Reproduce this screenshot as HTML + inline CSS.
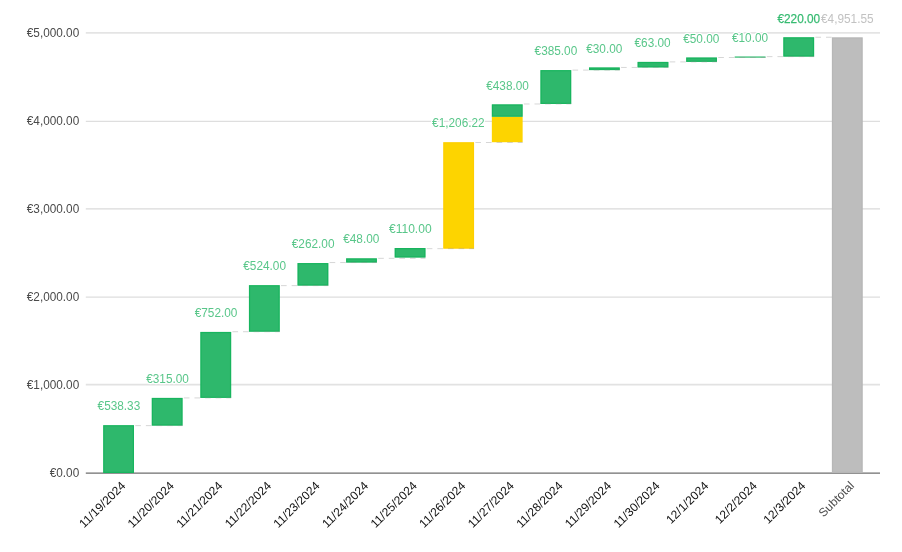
<!DOCTYPE html>
<html lang="en">
<head>
<meta charset="utf-8">
<title>Waterfall chart</title>
<style>
html,body{margin:0;padding:0;background:#fff;}
body{width:902px;height:552px;overflow:hidden;}
svg{display:block;filter:blur(.4px);}
.yl{font:12.4px "Liberation Sans",sans-serif;fill:#4a4a4a;text-anchor:end;}
.xl{font:12px "Liberation Sans",sans-serif;fill:#111;letter-spacing:.05px;text-anchor:end;}
.dl{font:12.3px "Liberation Sans",sans-serif;fill:#2eb86c;fill-opacity:.8;text-anchor:middle;stroke:#fff;stroke-width:2.5px;stroke-linejoin:round;paint-order:stroke;}
.dlb{fill-opacity:.95;stroke:#2eb86c;stroke-width:.25px;stroke-opacity:.9;paint-order:normal;}
.xs{fill:#4a4a4a;}
.dlg{fill:#c2c2c2;fill-opacity:1;}

.conn line{stroke:#8c8c8c;stroke-opacity:.36;stroke-width:1;stroke-dasharray:5.6 5;}
</style>
</head>
<body>
<svg width="902" height="552" viewBox="0 0 902 552">
<rect width="902" height="552" fill="#fff"/>
<g class="grid">
<line x1="85.8" x2="880" y1="384.6" y2="384.6" stroke="#e2e2e2" stroke-width="1.6"/>
<line x1="85.8" x2="880" y1="297.1" y2="297.1" stroke="#d6d6d6" stroke-width="1"/>
<line x1="85.8" x2="880" y1="208.9" y2="208.9" stroke="#dadada" stroke-width="1.2"/>
<line x1="85.8" x2="880" y1="121.3" y2="121.3" stroke="#d6d6d6" stroke-width="1"/>
<line x1="85.8" x2="880" y1="32.9" y2="32.9" stroke="#e4e4e4" stroke-width="1.8"/>
</g>
<line x1="85.8" x2="880" y1="473.1" y2="473.1" stroke="#6e6e6e" stroke-width="1.15"/>
<g class="bars">
<rect x="103.20" y="425.18" width="30.8" height="47.82" fill="#2eb86c"/>
<rect x="103.80" y="425.78" width="29.60" height="46.62" fill="none" stroke="#00b250" stroke-opacity="0.5" stroke-width="1.2"/>
<rect x="151.78" y="397.91" width="30.8" height="27.72" fill="#2eb86c"/>
<rect x="152.38" y="398.51" width="29.60" height="26.52" fill="none" stroke="#00b250" stroke-opacity="0.5" stroke-width="1.2"/>
<rect x="200.36" y="331.93" width="30.8" height="65.98" fill="#2eb86c"/>
<rect x="200.96" y="332.53" width="29.60" height="64.78" fill="none" stroke="#00b250" stroke-opacity="0.5" stroke-width="1.2"/>
<rect x="248.94" y="285.17" width="30.8" height="46.56" fill="#2eb86c"/>
<rect x="249.54" y="285.77" width="29.60" height="45.36" fill="none" stroke="#00b250" stroke-opacity="0.5" stroke-width="1.2"/>
<rect x="297.52" y="263.06" width="30.8" height="22.56" fill="#2eb86c"/>
<rect x="298.12" y="263.66" width="29.60" height="21.36" fill="none" stroke="#00b250" stroke-opacity="0.5" stroke-width="1.2"/>
<rect x="346.10" y="258.34" width="30.8" height="4.22" fill="#2eb86c"/>
<rect x="346.70" y="258.94" width="29.60" height="3.02" fill="none" stroke="#00b250" stroke-opacity="0.5" stroke-width="1.2"/>
<rect x="394.68" y="248.01" width="30.8" height="9.53" fill="#2eb86c"/>
<rect x="395.28" y="248.61" width="29.60" height="8.33" fill="none" stroke="#00b250" stroke-opacity="0.5" stroke-width="1.2"/>
<rect x="443.26" y="142.21" width="30.8" height="106.45" fill="#fdd400"/>
<rect x="443.86" y="142.81" width="29.60" height="105.25" fill="none" stroke="#ffc400" stroke-opacity="0.35" stroke-width="1.2"/>
<rect x="491.84" y="116.76" width="30.8" height="25.45" fill="#fdd400"/>
<rect x="491.84" y="104.37" width="30.8" height="12.39" fill="#2eb86c"/>
<rect x="492.44" y="104.97" width="29.60" height="11.19" fill="none" stroke="#00b250" stroke-opacity="0.5" stroke-width="1.2"/>
<rect x="540.42" y="70.09" width="30.8" height="33.88" fill="#2eb86c"/>
<rect x="541.02" y="70.69" width="29.60" height="32.68" fill="none" stroke="#00b250" stroke-opacity="0.5" stroke-width="1.2"/>
<rect x="589.00" y="67.45" width="30.8" height="2.64" fill="#2eb86c"/>
<rect x="589.60" y="68.05" width="29.60" height="1.44" fill="none" stroke="#00b250" stroke-opacity="0.5" stroke-width="1.2"/>
<rect x="637.58" y="61.90" width="30.8" height="5.54" fill="#2eb86c"/>
<rect x="638.18" y="62.50" width="29.60" height="4.34" fill="none" stroke="#00b250" stroke-opacity="0.5" stroke-width="1.2"/>
<rect x="686.16" y="57.50" width="30.8" height="4.40" fill="#2eb86c"/>
<rect x="686.76" y="58.10" width="29.60" height="3.20" fill="none" stroke="#00b250" stroke-opacity="0.5" stroke-width="1.2"/>
<rect x="734.74" y="56.62" width="30.8" height="0.88" fill="#2eb86c"/>
<rect x="734.74" y="56.62" width="30.8" height="0.88" fill="#00b250" fill-opacity="0.5"/>
<rect x="783.32" y="37.26" width="30.8" height="19.36" fill="#2eb86c"/>
<rect x="783.92" y="37.86" width="29.60" height="18.16" fill="none" stroke="#00b250" stroke-opacity="0.5" stroke-width="1.2"/>
<rect x="831.90" y="37.36" width="30.8" height="435.64" fill="#bdbdbd"/>
<rect x="832.50" y="37.96" width="29.60" height="434.44" fill="none" stroke="#a8a8a8" stroke-opacity="0.3" stroke-width="1.2"/>
</g>
<g class="conn">
<line x1="135.30" x2="182.58" y1="425.63" y2="425.63"/>
<line x1="183.88" x2="231.16" y1="397.91" y2="397.91"/>
<line x1="232.46" x2="279.74" y1="331.73" y2="331.73"/>
<line x1="281.04" x2="328.32" y1="285.62" y2="285.62"/>
<line x1="329.62" x2="376.90" y1="262.56" y2="262.56"/>
<line x1="378.20" x2="425.48" y1="258.34" y2="258.34"/>
<line x1="426.78" x2="474.06" y1="248.66" y2="248.66"/>
<line x1="475.36" x2="522.64" y1="142.51" y2="142.51"/>
<line x1="523.94" x2="571.22" y1="103.97" y2="103.97"/>
<line x1="572.52" x2="619.80" y1="70.09" y2="70.09"/>
<line x1="621.10" x2="668.38" y1="67.45" y2="67.45"/>
<line x1="669.68" x2="716.96" y1="61.90" y2="61.90"/>
<line x1="718.26" x2="765.54" y1="57.50" y2="57.50"/>
<line x1="766.84" x2="814.12" y1="56.62" y2="56.62"/>
<line x1="815.42" x2="831.90" y1="37.26" y2="37.26"/>
</g>
<g>
<text class="yl" x="79.2" y="476.75" textLength="29.47" lengthAdjust="spacingAndGlyphs">€0.00</text>
<text class="yl" x="79.2" y="388.79" textLength="52.40" lengthAdjust="spacingAndGlyphs">€1,000.00</text>
<text class="yl" x="79.2" y="300.83" textLength="52.40" lengthAdjust="spacingAndGlyphs">€2,000.00</text>
<text class="yl" x="79.2" y="212.87" textLength="52.40" lengthAdjust="spacingAndGlyphs">€3,000.00</text>
<text class="yl" x="79.2" y="124.91" textLength="52.40" lengthAdjust="spacingAndGlyphs">€4,000.00</text>
<text class="yl" x="79.2" y="36.95" textLength="52.40" lengthAdjust="spacingAndGlyphs">€5,000.00</text>
</g>
<g>
<text class="dl" x="118.90" y="410.25" textLength="42.67" lengthAdjust="spacingAndGlyphs">€538.33</text>
<text class="dl" x="167.58" y="382.95" textLength="42.67" lengthAdjust="spacingAndGlyphs">€315.00</text>
<text class="dl" x="216.06" y="317.05" textLength="42.67" lengthAdjust="spacingAndGlyphs">€752.00</text>
<text class="dl" x="264.64" y="270.45" textLength="42.67" lengthAdjust="spacingAndGlyphs">€524.00</text>
<text class="dl" x="313.12" y="247.95" textLength="42.67" lengthAdjust="spacingAndGlyphs">€262.00</text>
<text class="dl" x="361.30" y="243.05" textLength="36.11" lengthAdjust="spacingAndGlyphs">€48.00</text>
<text class="dl" x="410.28" y="233.45" textLength="42.67" lengthAdjust="spacingAndGlyphs">€110.00</text>
<text class="dl" x="458.36" y="127.45" textLength="52.52" lengthAdjust="spacingAndGlyphs">€1,206.22</text>
<text class="dl" x="507.54" y="89.75" textLength="42.67" lengthAdjust="spacingAndGlyphs">€438.00</text>
<text class="dl" x="555.92" y="55.45" textLength="42.67" lengthAdjust="spacingAndGlyphs">€385.00</text>
<text class="dl" x="604.30" y="52.55" textLength="36.11" lengthAdjust="spacingAndGlyphs">€30.00</text>
<text class="dl" x="652.58" y="46.95" textLength="36.11" lengthAdjust="spacingAndGlyphs">€63.00</text>
<text class="dl" x="701.26" y="43.05" textLength="36.11" lengthAdjust="spacingAndGlyphs">€50.00</text>
<text class="dl" x="750.04" y="42.05" textLength="36.11" lengthAdjust="spacingAndGlyphs">€10.00</text>
<text class="dl dlb" x="798.82" y="22.75" textLength="42.67" lengthAdjust="spacingAndGlyphs">€220.00</text>
<text class="dl dlg" x="847.30" y="22.75" textLength="52.52" lengthAdjust="spacingAndGlyphs">€4,951.55</text>
</g>
<g>
<text class="xl" transform="translate(126.20 486.4) rotate(-45)">11/19/2024</text>
<text class="xl" transform="translate(174.78 486.4) rotate(-45)">11/20/2024</text>
<text class="xl" transform="translate(223.36 486.4) rotate(-45)">11/21/2024</text>
<text class="xl" transform="translate(271.94 486.4) rotate(-45)">11/22/2024</text>
<text class="xl" transform="translate(320.52 486.4) rotate(-45)">11/23/2024</text>
<text class="xl" transform="translate(369.10 486.4) rotate(-45)">11/24/2024</text>
<text class="xl" transform="translate(417.68 486.4) rotate(-45)">11/25/2024</text>
<text class="xl" transform="translate(466.26 486.4) rotate(-45)">11/26/2024</text>
<text class="xl" transform="translate(514.84 486.4) rotate(-45)">11/27/2024</text>
<text class="xl" transform="translate(563.42 486.4) rotate(-45)">11/28/2024</text>
<text class="xl" transform="translate(612.00 486.4) rotate(-45)">11/29/2024</text>
<text class="xl" transform="translate(660.58 486.4) rotate(-45)">11/30/2024</text>
<text class="xl" transform="translate(709.16 486.4) rotate(-45)">12/1/2024</text>
<text class="xl" transform="translate(757.74 486.4) rotate(-45)">12/2/2024</text>
<text class="xl" transform="translate(806.32 486.4) rotate(-45)">12/3/2024</text>
<text class="xl xs" transform="translate(854.90 486.4) rotate(-45)">Subtotal</text>
</g>
</svg>
</body>
</html>
